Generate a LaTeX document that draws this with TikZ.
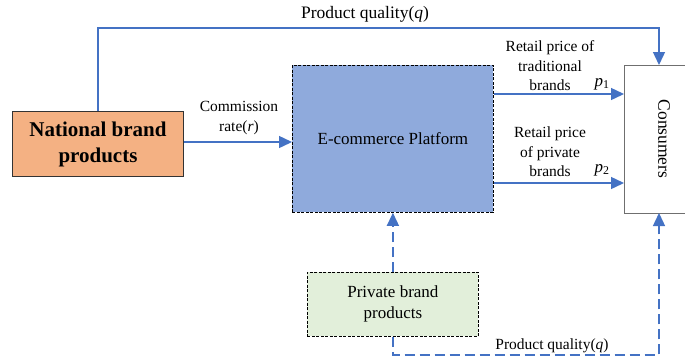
\documentclass[tikz,border=0pt]{standalone}
\usepackage{fontspec}
\setmainfont{Liberation Serif}
\usetikzlibrary{arrows.meta,calc}
\definecolor{flow}{HTML}{4472C4}
\definecolor{natfill}{HTML}{F4B183}
\definecolor{platfill}{HTML}{8FAADC}
\definecolor{privfill}{HTML}{E2EFDA}
\definecolor{consline}{HTML}{6F6F6F}
\tikzset{
  box/.style={rectangle, anchor=north west, inner sep=0pt, align=center},
  flowline/.style={draw=flow, line width=1.4pt, -{Triangle[length=13pt,width=12pt]}},
  flowdash/.style={flowline, dash pattern=on 10pt off 5pt},
  lbl/.style={font=\fontsize{15.5}{19.5}\selectfont, align=center, inner sep=0pt},
}
\begin{document}
\begin{tikzpicture}[x=1pt,y=-1pt]
\clip (0,0) rectangle (685,360);
\fill[white] (0,0) rectangle (685,360);

% blocks
\node[box, draw=black!80, line width=1pt, fill=natfill, minimum width=171pt, minimum height=65pt,
      font=\fontsize{21}{26}\selectfont\bfseries] (nat) at (12,111) {National brand\\products};
\node[box, draw=black, line width=0.8pt, dash pattern=on 3pt off 1.5pt, fill=platfill,
      minimum width=201pt, minimum height=147pt, font=\fontsize{17}{20}\selectfont] (plat) at (292,65) {E-commerce Platform};
\node[box, draw=consline, line width=1.3pt, fill=white, minimum width=72pt, minimum height=148pt] (cons) at (624,65) {};
\node[rotate=-90, font=\fontsize{17.5}{20}\selectfont] (constext) at (664,139) {Consumers};
\node[box, draw=black, line width=0.8pt, dash pattern=on 3pt off 1.5pt, fill=privfill,
      minimum width=171pt, minimum height=64pt, font=\fontsize{17}{21}\selectfont] (priv) at (307,272) {Private brand\\products};

% connection points
\coordinate (topin) at (659,65);
\coordinate (botin) at (659,213);
\coordinate (pa) at (plat.east |- 0,94);
\coordinate (pb) at (plat.east |- 0,183);
\coordinate (cm) at (nat.east |- 0,142);

% flows
\draw[flowline] (nat.north) |- (0,28 -| topin) -- (topin);
\draw[flowline] (cm) -- (cm -| plat.west);
\draw[flowline] (pa) -- (pa -| cons.west);
\draw[flowline] (pb) -- (pb -| cons.west);
\draw[flowdash] (priv.north) -- (plat.south);
\draw[flowdash] (priv.south) |- (0,355 -| botin) -- (botin);

% labels
\node[lbl, font=\fontsize{17.5}{20}\selectfont] (lq1) at (365,14) {Product quality(\textit{q})};
\node[lbl] (lcr) at (239,118) {Commission\\rate(\textit{r})};
\node[lbl] (lp1) at (550,66) {Retail price of\\traditional\\brands};
\node[lbl, font=\fontsize{17}{20}\selectfont] (sp1) at (602,84) {\textit{p}\textsubscript{1}};
\node[lbl] (lp2) at (550,152) {Retail price\\of private\\brands};
\node[lbl, font=\fontsize{17}{20}\selectfont] (sp2) at (602,170) {\textit{p}\textsubscript{2}};
\node[lbl] (lq2) at (552,346) {Product quality(\textit{q})};
\end{tikzpicture}
\end{document}
